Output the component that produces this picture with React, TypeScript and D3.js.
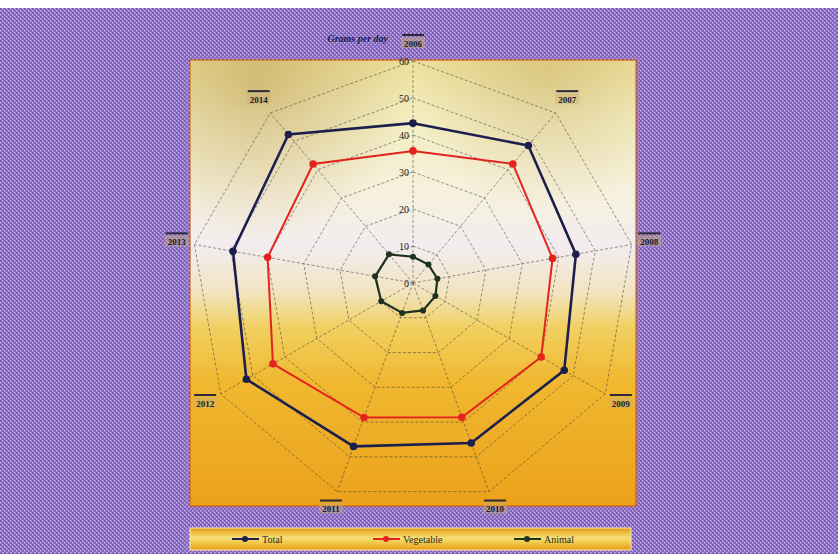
import React from 'react';
import * as d3 from 'd3';

const years = ['2006', '2007', '2008', '2009', '2010', '2011', '2012', '2013', '2014'];
const total = [43.2, 48.5, 44.7, 47.2, 46, 47, 52, 49.4, 52.4];
const vegetable = [35.7, 42, 38.3, 40, 38.6, 38.7, 43.7, 39.9, 42];
const animal = [7.1, 6.5, 6.7, 7, 7.9, 8.6, 9.9, 10.4, 10.1];
const ticks = [0, 10, 20, 30, 40, 50, 60];

const seriesList = [
  { name: 'Total', values: total, color: '#1c1f4e', width: 2.6, r: 3.8 },
  { name: 'Vegetable', values: vegetable, color: '#e5231e', width: 2, r: 3.8 },
  { name: 'Animal', values: animal, color: '#1d3320', width: 2.2, r: 3 },
];

const W = 838;
const H = 557;
const cx = 413;
const cy = 283;

export default function App() {
  const r = d3.scaleLinear().domain([0, 60]).range([0, 222]);
  const angle = d3
    .scaleLinear()
    .domain([0, years.length])
    .range([0, 2 * Math.PI]);

  const pt = (i: number, v: number) => {
    const a = angle(i);
    return [cx + r(v) * Math.sin(a), cy - r(v) * Math.cos(a)];
  };

  const line = d3
    .lineRadial<number>()
    .angle((_, i) => angle(i))
    .radius((d) => r(d))
    .curve(d3.curveLinearClosed);

  const gridLine = (v: number) => line(years.map(() => v)) || '';

  return (
    <div style={{ position: 'absolute', left: 0, top: 0 }}>
      <svg width={W} height={H} style={{ display: 'block' }} fontFamily="'Liberation Serif', 'DejaVu Serif', serif">
        <defs>
          <pattern id="weave" width="4" height="4" patternUnits="userSpaceOnUse">
            <rect width="4" height="4" fill="#a084d0" />
            <rect x="0" y="0" width="2" height="2" fill="#7c5db8" />
            <rect x="2" y="2" width="2" height="2" fill="#8465bf" />
            <rect x="2" y="0" width="1" height="1" fill="#cbb8ee" />
            <rect x="0" y="2" width="1" height="1" fill="#c6b2ea" />
          </pattern>
          <linearGradient id="plotBg" x1="0" y1="0" x2="0" y2="1">
            <stop offset="0" stopColor="#ece09a" />
            <stop offset="0.12" stopColor="#f3edbe" />
            <stop offset="0.3" stopColor="#f6f1de" />
            <stop offset="0.42" stopColor="#f3ecef" />
            <stop offset="0.52" stopColor="#f2e4c0" />
            <stop offset="0.6" stopColor="#f1d060" />
            <stop offset="0.72" stopColor="#f0b830" />
            <stop offset="1" stopColor="#eca11b" />
          </linearGradient>
          <radialGradient id="shade" cx="0.15" cy="0.05" r="0.35">
            <stop offset="0" stopColor="#b08a3a" stopOpacity="0.45" />
            <stop offset="1" stopColor="#b08a3a" stopOpacity="0" />
          </radialGradient>
          <radialGradient id="shade2" cx="0.8" cy="0.04" r="0.3">
            <stop offset="0" stopColor="#b08a3a" stopOpacity="0.3" />
            <stop offset="1" stopColor="#b08a3a" stopOpacity="0" />
          </radialGradient>
          <linearGradient id="legendBg" x1="0" y1="0" x2="0" y2="1">
            <stop offset="0" stopColor="#e79a12" />
            <stop offset="0.45" stopColor="#f6e07a" />
            <stop offset="0.55" stopColor="#f4d860" />
            <stop offset="1" stopColor="#e79a12" />
          </linearGradient>
        </defs>

        <rect width={W} height={H} fill="#ffffff" />
        <rect x={0} y={8} width={W} height={546} fill="url(#weave)" />

        {/* plot area */}
        <rect x={190} y={60} width={446} height={446} fill="url(#plotBg)" stroke="#d0601a" strokeWidth={1.2} />
        <rect x={190} y={60} width={446} height={446} fill="url(#shade)" />
        <rect x={190} y={60} width={446} height={446} fill="url(#shade2)" />

        {/* grid */}
        <g fill="none" stroke="#3a3a3a" strokeWidth={0.7} strokeDasharray="3,2" opacity={0.75}>
          {ticks.slice(1).map((t) => (
            <path key={t} d={gridLine(t)} transform={`translate(${cx},${cy})`} />
          ))}
          {years.map((y, i) => {
            const [x2, y2] = pt(i, 60);
            return <line key={y} x1={cx} y1={cy} x2={x2} y2={y2} />;
          })}
        </g>

        {/* tick labels */}
        <g fontSize={10} fill="#222" textAnchor="end">
          {ticks.map((t) => (
            <text key={t} x={cx - 4} y={cy - r(t) + 4}>
              {t}
            </text>
          ))}
        </g>

        {/* series */}
        {seriesList.map((s) => (
          <g key={s.name}>
            <path
              d={line(s.values) || ''}
              transform={`translate(${cx},${cy})`}
              fill="none"
              stroke={s.color}
              strokeWidth={s.width}
            />
            {s.values.map((v, i) => {
              const [x, y] = pt(i, v);
              return <circle key={i} cx={x} cy={y} r={s.r} fill={s.color} />;
            })}
          </g>
        ))}

        {/* axis labels */}
        <g fontSize={9} fill="#1a1a2a" textAnchor="middle" fontWeight="bold">
          {years.map((y, i) => {
            const a = angle(i);
            const lr = 240;
            const x = cx + lr * Math.sin(a);
            const yy = cy - lr * Math.cos(a);
            return (
              <g key={y}>
                <rect x={x - 11} y={yy - 9} width={22} height={2} fill="#2a2a3a" />
                <rect x={x - 12} y={yy - 6} width={24} height={11} fill="#c8b070" opacity={0.45} />
                <text x={x} y={yy + 3.5}>
                  {y}
                </text>
              </g>
            );
          })}
        </g>

        <text x={388} y={42} textAnchor="end" fontSize={10} fontStyle="italic" fontWeight="bold" fill="#1c1f4e">
          Grams per day
        </text>

        {/* legend */}
        <rect x={190} y={528} width={441} height={22} fill="url(#legendBg)" stroke="#f7e9b8" strokeWidth={1} />
        {seriesList.map((s, i) => {
          const lx = 232 + i * 141;
          const ly = 539;
          return (
            <g key={s.name}>
              <line x1={lx} y1={ly} x2={lx + 27} y2={ly} stroke={s.color} strokeWidth={2} />
              <circle cx={lx + 13} cy={ly} r={3} fill={s.color} />
              <text x={lx + 30} y={ly + 3.5} fontSize={10} fill="#2a2a2a">
                {s.name}
              </text>
            </g>
          );
        })}
      </svg>
    </div>
  );
}
